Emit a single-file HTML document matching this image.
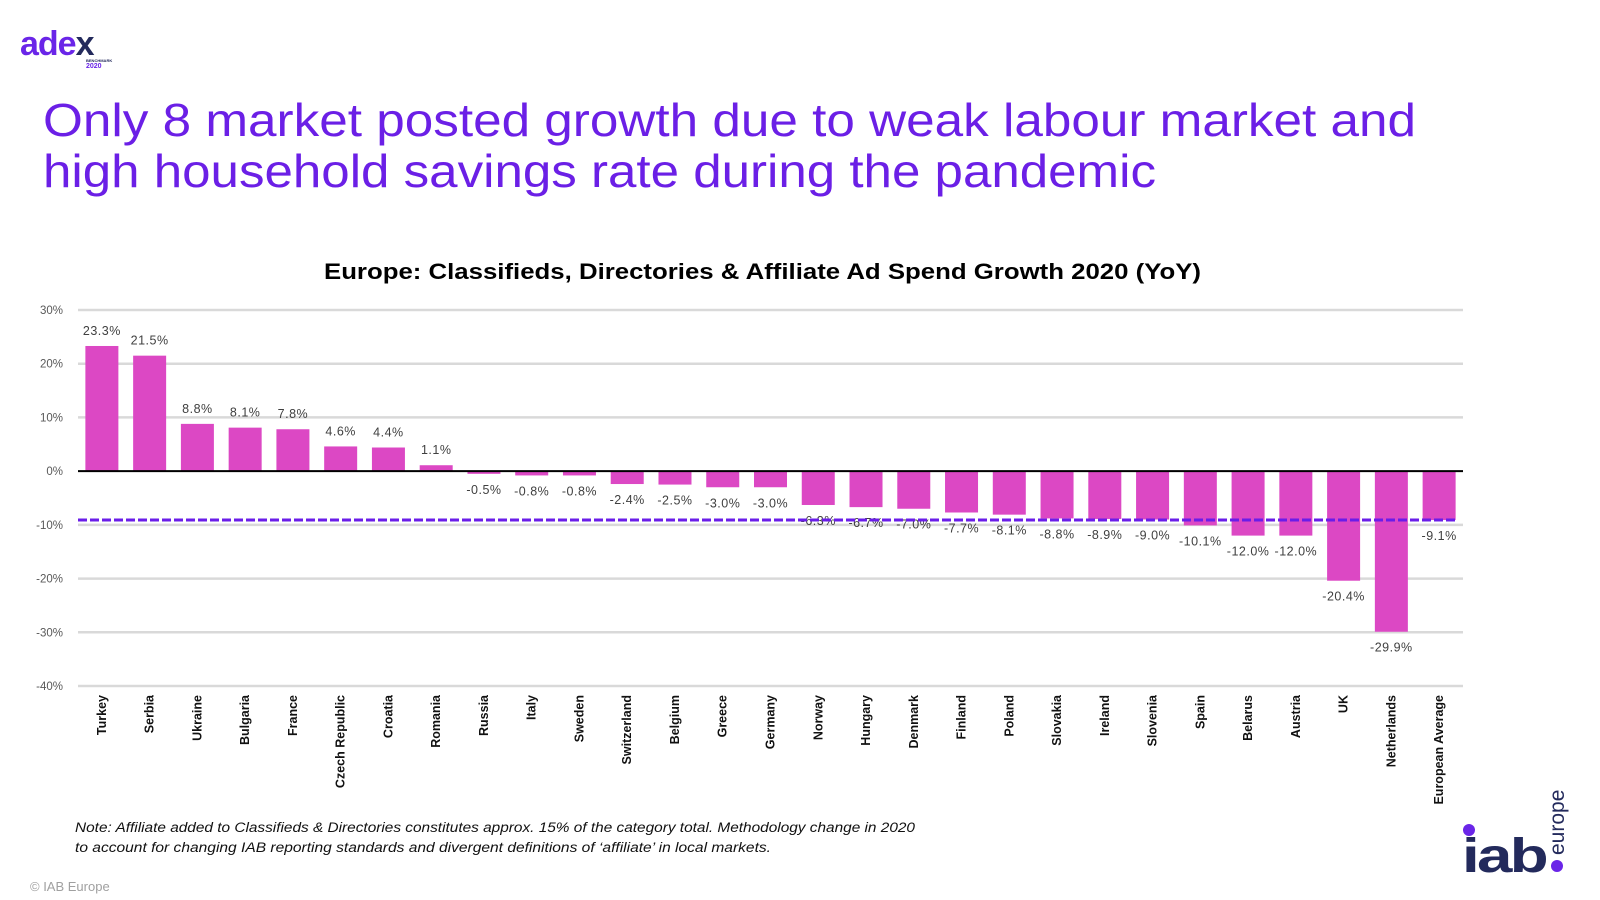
<!DOCTYPE html>
<html><head><meta charset="utf-8"><style>
body{margin:0;background:#fff;}
svg{display:block;font-family:"Liberation Sans",sans-serif;}
</style></head><body>
<svg id="chart" width="1600" height="900" viewBox="0 0 1600 900">
<g>
<text x="20" y="55" font-size="34" font-weight="bold" fill="#6a25e8" letter-spacing="-1">ade<tspan fill="#232a5c">x</tspan></text>
<text x="86" y="62" font-size="4" font-weight="bold" fill="#232a5c">BENCHMARK</text>
<text x="86" y="68" font-size="7" font-weight="bold" fill="#6a25e8">2020</text>
</g>
<text x="43" y="136" font-size="46" fill="#6b1fe6" textLength="1373" lengthAdjust="spacingAndGlyphs">Only 8 market posted growth due to weak labour market and</text>
<text x="43" y="187" font-size="46" fill="#6b1fe6" textLength="1113" lengthAdjust="spacingAndGlyphs">high household savings rate during the pandemic</text>
<text x="324" y="279" font-size="22" font-weight="bold" fill="#000" textLength="877" lengthAdjust="spacingAndGlyphs">Europe: Classifieds, Directories &amp; Affiliate Ad Spend Growth 2020 (YoY)</text>
<g id="plot"></g>
<text x="75" y="832" font-size="13.5" font-style="italic" fill="#111" textLength="840" lengthAdjust="spacingAndGlyphs">Note: Affiliate added to Classifieds &amp; Directories constitutes approx. 15% of the category total. Methodology change in 2020</text>
<text x="75" y="852" font-size="13.5" font-style="italic" fill="#111" textLength="696" lengthAdjust="spacingAndGlyphs">to account for changing IAB reporting standards and divergent definitions of ‘affiliate’ in local markets.</text>
<text x="30" y="891" font-size="13" fill="#a0a0a0">© IAB Europe</text>
<g>
<circle cx="1469" cy="830" r="6" fill="#6a25e8"></circle>
<text x="1462" y="872" font-size="48" font-weight="bold" fill="#232a5c" letter-spacing="-2" textLength="84" lengthAdjust="spacingAndGlyphs">iab</text>
<circle cx="1557" cy="866" r="6" fill="#6a25e8"></circle>
<text transform="translate(1564,855) rotate(-90)" font-size="21" fill="#232a5c">europe</text>
</g>
</svg>
<script>
const categories=["Turkey","Serbia","Ukraine","Bulgaria","France","Czech Republic","Croatia","Romania","Russia","Italy","Sweden","Switzerland","Belgium","Greece","Germany","Norway","Hungary","Denmark","Finland","Poland","Slovakia","Ireland","Slovenia","Spain","Belarus","Austria","UK","Netherlands","European Average"];
const values=[23.3,21.5,8.8,8.1,7.8,4.6,4.4,1.1,-0.5,-0.8,-0.8,-2.4,-2.5,-3.0,-3.0,-6.3,-6.7,-7.0,-7.7,-8.1,-8.8,-8.9,-9.0,-10.1,-12.0,-12.0,-20.4,-29.9,-9.1];
const averageValue=-9.1;
const yTicks=[30,20,10,0,-10,-20,-30,-40];
const NS="http://www.w3.org/2000/svg";
const plot=document.getElementById('plot');
const X0=78,X1=1463,Y30=310,Ym40=686;
const band=(X1-X0)/categories.length;
function y(v){return Y30+(30-v)*(Ym40-Y30)/70;}
function xc(i){return X0+band*(i+0.5);}
function mk(tag,attrs){const e=document.createElementNS(NS,tag);for(const k in attrs)e.setAttribute(k,attrs[k]);plot.appendChild(e);return e;}
yTicks.forEach(t=>{
  if(t!==0){const g=mk('line',{x1:X0,x2:X1,y1:y(t),y2:y(t),stroke:'#d9d9d9','stroke-width':2.5});
  
  }
  const l=mk('text',{x:63,y:y(t)+4,'font-size':11.5,fill:'#595959','text-anchor':'end'});
  l.textContent=t+'%';
  
  
});
values.forEach((v,i)=>{
  const top=Math.min(y(v),y(0)),h=Math.abs(y(v)-y(0));
  const b=mk('rect',{x:xc(i)-16.5,y:top,width:33,height:h,fill:'#dc48c4'});
  
  
  const ly=v>=0?y(v)-11:y(v)+20;
  const t=mk('text',{x:xc(i),y:ly,'font-size':12.5,fill:'#404040','text-anchor':'middle','letter-spacing':'0.5'});
  t.textContent=v.toFixed(1)+'%';
  
  
  const c=mk('text',{transform:`translate(${xc(i)+4},695) rotate(-90)`,'font-size':12.5,fill:'#111','text-anchor':'end','font-weight':'bold'});
  c.textContent=categories[i];
  
  
});
const z=mk('line',{x1:X0,x2:X1,y1:y(0),y2:y(0),stroke:'#000','stroke-width':2});


const a=mk('line',{x1:X0,x2:X1-5,y1:y(averageValue),y2:y(averageValue),stroke:'#6a1de8','stroke-width':3,'stroke-dasharray':'9 3'});


</script>
</body></html>
